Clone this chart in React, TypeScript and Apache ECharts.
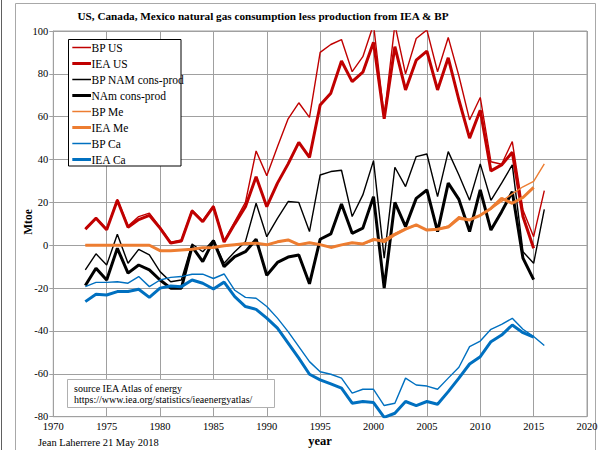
import React, { useEffect, useRef } from "react";
import * as echarts from "echarts";

const bpYears = [1973, 1974, 1975, 1976, 1977, 1978, 1979, 1980, 1981, 1982, 1983, 1984, 1985, 1986, 1987, 1988, 1989, 1990, 1991, 1992, 1993, 1994, 1995, 1996, 1997, 1998, 1999, 2000, 2001, 2002, 2003, 2004, 2005, 2006, 2007, 2008, 2009, 2010, 2011, 2012, 2013, 2014, 2015, 2016];
const ieaYears = [1973, 1974, 1975, 1976, 1977, 1978, 1979, 1980, 1981, 1982, 1983, 1984, 1985, 1986, 1987, 1988, 1989, 1990, 1991, 1992, 1993, 1994, 1995, 1996, 1997, 1998, 1999, 2000, 2001, 2002, 2003, 2004, 2005, 2006, 2007, 2008, 2009, 2010, 2011, 2012, 2013, 2014, 2015];

const bpUS = [8, 13, 7.5, 21.5, 9, 13.4, 15, 8.5, 1.5, 2.5, 16.5, 11.5, 18.5, 2, 11, 20, 44, 32.5, 46, 59, 66.5, 59.7, 90, 93.7, 96, 81, 88, 103, 60, 103, 80, 96.5, 100.5, 81, 97, 79, 58.5, 69, 39, 37.8, 48.4, 16.5, 4, 25.5];
const ieaUS = [7.5, 12.6, 7.2, 21, 8.4, 12, 14, 8, 1, 2, 16, 11, 18, 1.5, 10, 18, 32, 18, 29, 38, 48, 41, 65.5, 71, 86, 76.4, 80.8, 94.7, 59, 92.7, 72.5, 86.4, 90.6, 72.5, 87.5, 67.8, 50, 63, 34.7, 37.5, 43.4, 13.4, -1.4];
const bpNAm = [-11.5, -4, -9.2, 5.1, -8.4, -1.9, -4.5, -12.3, -17, -16.2, 0.6, -3, 2.5, -8.4, -3, 1.7, 19.6, 4, 12.6, 20.4, 20, 6.4, 32.8, 34.4, 35, 13.4, 23.5, 39.5, -6, 36.4, 27.4, 41.4, 42.6, 22.7, 43.7, 32.8, 21, 38, 21, 29, 37.5, -3, -8.4, 16.8];
const ieaNAm = [-18.8, -10.7, -16.2, -1.4, -13, -9.2, -11.5, -16.2, -20, -20, -0.6, -7.6, 2.2, -10, -5.3, -3, 2.8, -14, -8, -5.5, -4.5, -18, 2.8, 5.3, 19.3, 5.6, 8, 22.7, -20, 20, 8.7, 21.9, 25.8, 6.4, 29, 21.4, 6.4, 25.8, 7.1, 15.7, 25, -6, -16];
const bpMe = [0, 0, 0, 0, 0, 0, 0, -2.5, -2.5, -2.2, -1.9, -1.1, -1, -0.2, 0.3, 0.8, 1, 0.2, 1.4, 2.5, 0.3, 1.2, 0.3, -1, 0.2, 1.2, 0.6, 2.2, 2.8, 5.6, 7.9, 9.5, 7.1, 7.5, 9, 13.4, 12, 14.1, 17, 20.5, 24, 27.3, 29.8, 38];
const ieaMe = [0, 0, 0, 0, 0, 0, 0, -2.5, -2.5, -2.2, -1.9, -1.1, -1, -0.2, 0.3, 0.8, 1, 0.2, 1.6, 2.5, 0.3, 1.2, 0.3, -1, 0.2, 1.2, 0.6, 2.8, 1.7, 5, 7.5, 9.5, 7.1, 7.5, 8.5, 12.6, 11.8, 14, 17.2, 21.9, 19.6, 22.3, 27];
const bpCa = [-19.3, -17.3, -17.3, -17, -17.7, -14.6, -19.3, -16.2, -15, -14.6, -13.5, -13.5, -15.5, -13.4, -21, -24.3, -24.7, -28.6, -34, -40.3, -47.3, -54.3, -59, -60.2, -62, -69, -67.2, -67.2, -74.8, -73.7, -62, -65.2, -65.7, -67.2, -62, -56.9, -47.3, -44.7, -39.2, -36.9, -34.1, -39.2, -42.6, -46.8];
const ieaCa = [-26.3, -22.9, -23.2, -21.6, -21.6, -20.5, -24.3, -20, -19, -19.3, -16.2, -17.7, -20.4, -17.2, -24, -28.6, -29.9, -34, -38.7, -45.7, -52.7, -60.2, -62.8, -64.7, -66.7, -73.7, -72.9, -73.4, -80.3, -78.4, -72.9, -74.8, -72.9, -74.2, -68.3, -62, -55.4, -52, -45, -41.9, -37.2, -40.8, -42.9];

const xTicks = [1970, 1975, 1980, 1985, 1990, 1995, 2000, 2005, 2010, 2015, 2020];
const yTicks = [-80, -60, -40, -20, 0, 20, 40, 60, 80, 100];

const RED = "#c00000";
const BLACK = "#000000";
const ORANGE = "#ed7d31";
const BLUE = "#0070c0";
const SERIF = "'Liberation Serif', 'Times New Roman', serif";
const THIN = 1.4;
const THICK = 3;

const seriesDefs = [
  { name: "BP US", years: bpYears, vals: bpUS, color: RED, width: THIN },
  { name: "IEA US", years: ieaYears, vals: ieaUS, color: RED, width: THICK },
  { name: "BP NAM cons-prod", years: bpYears, vals: bpNAm, color: BLACK, width: THIN },
  { name: "NAm cons-prod", years: ieaYears, vals: ieaNAm, color: BLACK, width: THICK },
  { name: "BP Me", years: bpYears, vals: bpMe, color: ORANGE, width: THIN },
  { name: "IEA Me", years: ieaYears, vals: ieaMe, color: ORANGE, width: THICK },
  { name: "BP Ca", years: bpYears, vals: bpCa, color: BLUE, width: THIN },
  { name: "IEA Ca", years: ieaYears, vals: ieaCa, color: BLUE, width: THICK },
];

function legendGraphics() {
  const out: any[] = [
    {
      type: "rect",
      silent: true,
      z: 30,
      shape: { x: 68.5, y: 39.5, width: 112.5, height: 126.5 },
      style: { fill: "#ffffff", stroke: "#000000", lineWidth: 1 },
    },
  ];
  seriesDefs.forEach((d, i) => {
    const cy = 47.5 + i * 16;
    out.push({
      type: "line",
      silent: true,
      z: 31,
      shape: { x1: 72.3, y1: cy, x2: 91, y2: cy },
      style: { stroke: d.color, lineWidth: d.width === THIN ? 1.5 : 3 },
    });
    out.push({
      type: "text",
      silent: true,
      z: 31,
      x: 91.5,
      y: cy,
      style: {
        text: d.name,
        fontFamily: SERIF,
        fontSize: 11.5,
        fill: "#000",
        textVerticalAlign: "middle",
      },
    });
  });
  return out;
}

export default function App() {
  const ref = useRef<HTMLDivElement>(null);
  useEffect(() => {
    if (!ref.current) return;
    const chart = echarts.init(ref.current, undefined, { renderer: "svg" });
    const option: any = {
      animation: false,
      backgroundColor: "#ffffff",
      textStyle: { fontFamily: SERIF, color: "#000" },
      grid: {
        left: 53.3,
        right: 14,
        top: 31,
        bottom: 33.3,
        show: true,
        borderColor: "#a0a0a0",
        borderWidth: 1,
        containLabel: false,
      },
      xAxis: {
        type: "value",
        min: xTicks[0],
        max: xTicks[xTicks.length - 1],
        interval: 5,
        axisLine: { show: true, lineStyle: { color: "#a0a0a0" } },
        axisTick: { show: false },
        splitLine: { show: true, lineStyle: { color: "#a0a0a0", width: 1 } },
        axisLabel: {
          color: "#000",
          fontFamily: SERIF,
          fontSize: 10.5,
          margin: 4,
          formatter: (v: number) => String(v),
        },
      },
      yAxis: {
        type: "value",
        min: yTicks[0],
        max: yTicks[yTicks.length - 1],
        interval: 20,
        axisLine: { show: true, lineStyle: { color: "#a0a0a0" } },
        axisTick: { show: true, length: 4, lineStyle: { color: "#a0a0a0" } },
        splitLine: { show: true, lineStyle: { color: "#a0a0a0", width: 1 } },
        axisLabel: {
          color: "#000",
          fontFamily: SERIF,
          fontSize: 10.5,
          margin: 5,
          formatter: (v: number) => String(v),
        },
      },
      graphic: [
        {
          type: "rect",
          silent: true,
          shape: { x: 15.5, y: 3.5, width: 580, height: 460 },
          style: { fill: "none", stroke: "#a8a8a8", lineWidth: 1 },
          z: -10,
        },
        {
          type: "line",
          silent: true,
          shape: { x1: 1.5, y1: 0, x2: 1.5, y2: 450 },
          style: { stroke: "#606060", lineWidth: 1 },
        },
        {
          type: "text",
          x: 263,
          y: 16,
          style: {
            text: "US, Canada, Mexico natural gas consumption less production from IEA & BP",
            fontFamily: SERIF,
            fontWeight: "bold",
            fontSize: 11.2,
            fill: "#000",
            textAlign: "center",
            textVerticalAlign: "middle",
          },
        },
        {
          type: "text",
          x: 28,
          y: 222,
          rotation: Math.PI / 2,
          style: {
            text: "Mtoe",
            fontFamily: SERIF,
            fontWeight: "bold",
            fontSize: 11.5,
            fill: "#000",
            textAlign: "center",
            textVerticalAlign: "middle",
          },
        },
        ...legendGraphics(),
        {
          type: "rect",
          silent: true,
          shape: { x: 67.5, y: 379.5, width: 207, height: 28 },
          style: { fill: "#ffffff", stroke: "#b0b0b0", lineWidth: 1 },
          z: 20,
        },
        {
          type: "text",
          x: 74,
          y: 388,
          z: 21,
          style: {
            text: "source IEA Atlas of energy",
            fontFamily: SERIF,
            fontSize: 10,
            fill: "#000",
            textVerticalAlign: "middle",
          },
        },
        {
          type: "text",
          x: 74,
          y: 399,
          z: 21,
          style: {
            text: "https://www.iea.org/statistics/ieaenergyatlas/",
            fontFamily: SERIF,
            fontSize: 10,
            fill: "#000",
            textVerticalAlign: "middle",
          },
        },
        {
          type: "text",
          x: 38,
          y: 442,
          style: {
            text: "Jean Laherrere 21 May 2018",
            fontFamily: SERIF,
            fontSize: 10.5,
            fill: "#000",
            textVerticalAlign: "middle",
          },
        },
        {
          type: "text",
          x: 320,
          y: 441,
          style: {
            text: "year",
            fontFamily: SERIF,
            fontWeight: "bold",
            fontSize: 12.5,
            fill: "#000",
            textAlign: "center",
            textVerticalAlign: "middle",
          },
        },
      ],
      series: seriesDefs.map((d) => ({
        name: d.name,
        type: "line",
        data: d.years.map((y, i) => [y, d.vals[i]]),
        symbol: "none",
        showSymbol: false,
        clip: true,
        z: 3,
        lineStyle: { color: d.color, width: d.width },
        itemStyle: { color: d.color },
      })),
    };
    chart.setOption(option);
    return () => chart.dispose();
  }, []);
  return (
    <div
      ref={ref}
      style={{ position: "fixed", left: 0, top: 0, width: 601, height: 450, background: "#fff" }}
    />
  );
}
